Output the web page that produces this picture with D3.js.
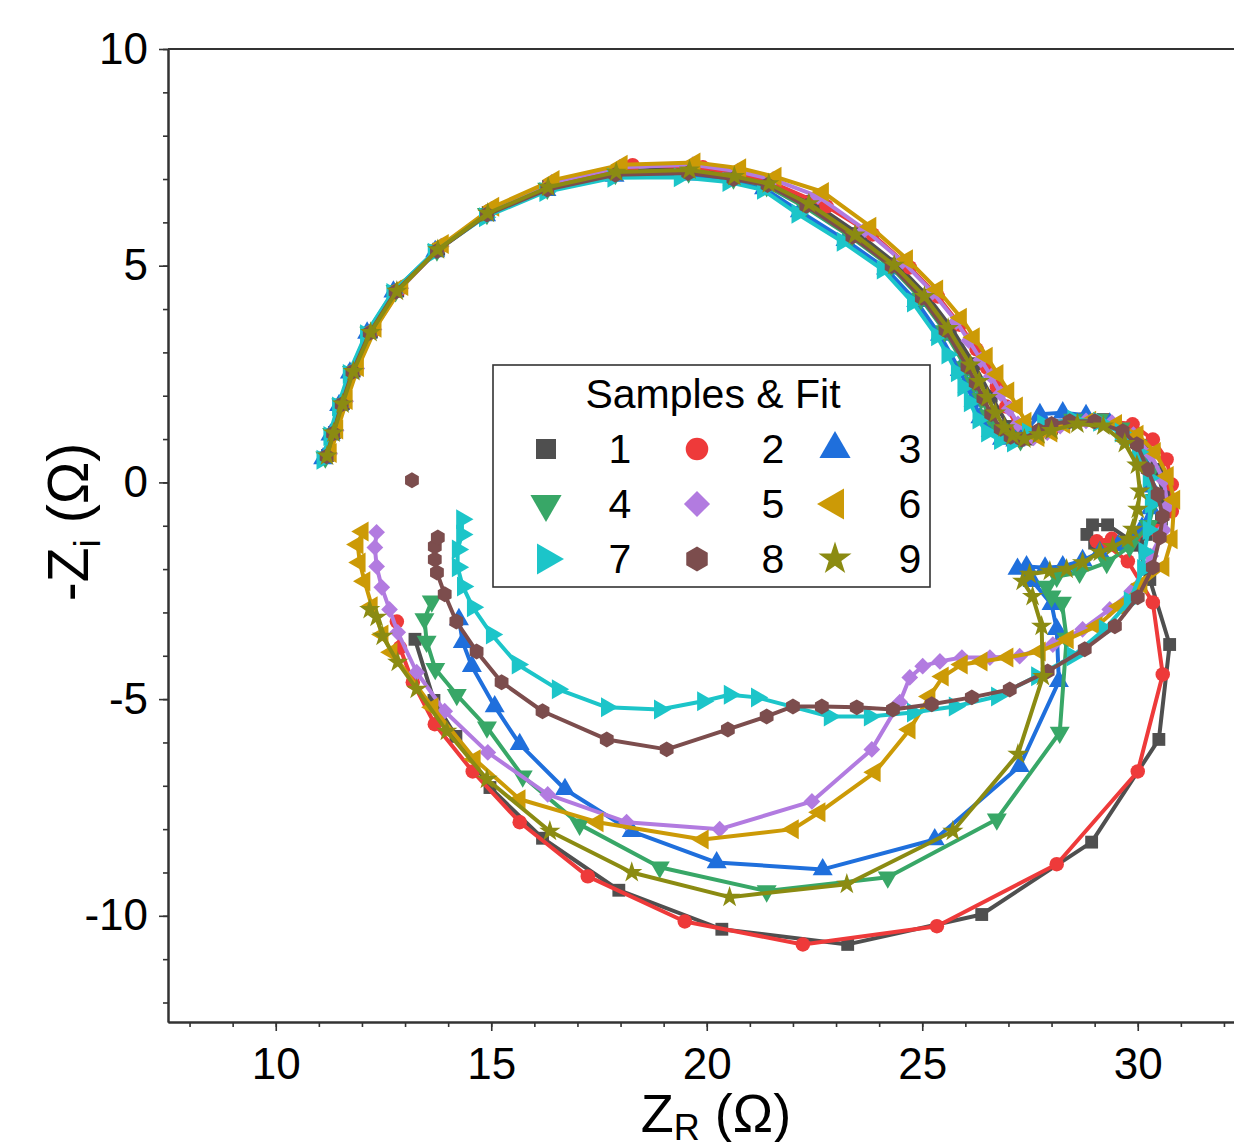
<!DOCTYPE html>
<html lang="en">

<head>
    <meta charset="UTF-8">
    <title>Nyquist samples and fit</title>
    <script src="https://cdn.jsdelivr.net/npm/d3@7"></script>
    <style>
        body { margin: 0; background: #fff; }
        text { font-family: "Liberation Sans", Arial, sans-serif; fill: #000; }
    </style>
</head>

<body>
    <svg></svg>
</body>
<script>
    const sample1 = [[11.2,0.62],[11.36,1.15],[11.57,1.82],[11.82,2.57],[12.22,3.47],[12.83,4.42],[13.78,5.38],[14.93,6.23],[16.33,6.83],[17.92,7.18],[19.62,7.24],[20.65,7.1],
        [21.47,6.92],[22.43,6.48],[23.51,5.74],[24.4,5.04],[25.1,4.32],[25.65,3.6],[26.19,2.74],[26.6,1.99],[27.0,1.29],[27.43,1.0],
        [28.0,1.25],[28.6,1.45],[29.2,1.45],[29.7,1.25],[30.1,0.85],[30.45,0.3],[30.6,-0.3],[30.55,-0.85],[30.2,-1.2],[29.6,-1.38],[29.0,-1.4],[28.82,-1.2],[28.95,-0.98],[29.3,-0.98],[30.0,-1.45],
        [30.28,-2.24],[30.74,-3.74],[30.49,-5.93],[28.93,-8.3],[26.38,-9.97],[23.27,-10.66],[20.35,-10.31],[17.96,-9.41],[16.19,-8.21],[14.97,-7.04],[14.18,-5.86],[13.67,-5.03],[13.23,-3.62]];
    const sample2 = [[11.22,0.64],[11.38,1.17],[11.6,1.85],[11.85,2.6],[12.25,3.5],[12.86,4.45],[13.8,5.42],[14.96,6.27],[16.36,6.88],[18.28,7.32],[19.91,7.27],[21.46,6.94],
        [22.78,6.37],[23.85,5.72],[24.71,4.96],[25.36,4.29],[25.87,3.64],[26.26,3.07],[26.5,2.65],[26.73,2.21],[26.95,1.75],[27.2,1.3],[27.55,1.05],
        [28.1,1.3],[28.7,1.45],[29.3,1.42],[29.88,1.34],[30.35,0.99],[30.67,0.53],[30.79,-0.05],[30.79,-0.67],[30.45,-1.12],[29.9,-1.28],[29.4,-1.3],[29.05,-1.36],[29.28,-1.45],[29.77,-1.82],
        [30.35,-2.77],[30.58,-4.43],[30.0,-6.67],[28.12,-8.81],[25.34,-10.24],[22.23,-10.66],[19.49,-10.13],[17.24,-9.09],[15.66,-7.84],[14.57,-6.67],[13.69,-5.58],[13.18,-4.61],[12.88,-3.81],[12.81,-3.21]];
    const sample3 = [[11.1,0.55],[11.27,1.1],[11.47,1.78],[11.72,2.53],[12.12,3.45],[12.73,4.4],[13.7,5.33],[14.88,6.16],[16.28,6.74],[17.86,7.07],[19.55,7.1],[20.6,6.98],
        [21.33,6.78],[22.16,6.25],[23.22,5.59],[24.16,4.93],[24.86,4.18],[25.41,3.4],[25.87,2.59],[26.05,2.2],[26.19,1.88],[26.35,1.5],[26.59,1.18],[26.85,1.0],[27.16,0.96],
        [27.45,1.25],[27.73,1.57],[28.26,1.61],[28.8,1.55],[29.35,1.35],[29.8,1.0],[30.1,0.5],[30.3,-0.1],[30.3,-0.6],[30.1,-1.05],[29.55,-1.45],[29.12,-1.61],[28.72,-1.8],[28.26,-1.94],[27.85,-1.97],[27.42,-1.94],[27.21,-2.0],
        [27.56,-2.28],[28.0,-2.81],[28.12,-3.39],[28.17,-4.59],[27.26,-6.55],[25.29,-8.24],[22.69,-8.93],[20.23,-8.77],[18.26,-8.05],[16.71,-7.08],[15.66,-6.04],[15.08,-5.17],[14.55,-4.24],[14.34,-3.69],[14.25,-3.16]];
    const sample4 = [[11.15,0.58],[11.31,1.12],[11.52,1.8],[11.77,2.55],[12.17,3.46],[12.78,4.42],[13.74,5.36],[14.9,6.2],[16.3,6.78],[17.88,7.12],[19.58,7.16],[20.62,7.02],
        [21.39,6.84],[22.28,6.35],[23.35,5.66],[24.27,4.98],[24.97,4.24],[25.52,3.49],[26.01,2.66],[26.2,2.3],[26.37,1.93],[26.55,1.55],[26.77,1.23],[27.0,1.05],[27.28,0.98],
        [27.6,1.15],[27.95,1.32],[28.5,1.45],[29.1,1.45],[29.6,1.25],[30.0,0.85],[30.3,0.25],[30.4,-0.4],[30.25,-1.0],[29.81,-1.48],[29.28,-1.85],[28.65,-2.08],[28.12,-2.17],[27.89,-2.4],[28.0,-2.63],
        [28.24,-2.77],[28.35,-3.6],[28.19,-5.77],[26.73,-7.77],[24.2,-9.11],[21.39,-9.43],[18.91,-8.88],[17.05,-7.89],[15.73,-6.78],[14.9,-5.65],[14.2,-4.9],[13.7,-4.3],[13.5,-3.67],[13.45,-3.15],[13.62,-2.74]];
    const sample5 = [[11.25,0.66],[11.4,1.2],[11.62,1.87],[11.88,2.63],[12.28,3.53],[12.9,4.48],[13.84,5.45],[15.0,6.3],[16.4,6.92],[17.98,7.27],[19.68,7.33],[20.72,7.18],
        [21.54,6.99],[22.58,6.6],[23.67,5.83],[24.54,5.1],[25.24,4.39],[25.79,3.71],[26.08,3.27],[26.36,2.83],[26.6,2.45],[26.82,2.05],[27.02,1.7],[27.22,1.35],[27.58,1.03],
        [27.9,1.15],[28.2,1.3],[28.8,1.42],[29.4,1.38],[29.9,1.1],[30.3,0.65],[30.6,0.05],[30.7,-0.55],[30.6,-1.1],[30.3,-1.7],[29.86,-2.51],[29.35,-2.93],[28.72,-3.39],[28.03,-3.74],[27.26,-4.01],
        [26.57,-4.04],[25.92,-4.04],[25.41,-4.13],[25.01,-4.24],[24.71,-4.5],[24.48,-5.07],[23.83,-6.16],[22.44,-7.36],[20.3,-8.0],[18.14,-7.84],[16.31,-7.2],[14.92,-6.23],[13.92,-5.28],[13.27,-4.38],
        [12.83,-3.46],[12.64,-2.93],[12.46,-2.42],[12.34,-1.94],[12.3,-1.5],[12.34,-1.15]];
    const sample6 = [[11.28,0.68],[11.43,1.22],[11.65,1.9],[11.91,2.66],[12.32,3.57],[12.94,4.53],[13.88,5.5],[15.05,6.36],[16.45,6.98],[18.03,7.33],[19.72,7.38],[20.78,7.25],
        [21.6,7.05],[22.7,6.7],[23.8,5.9],[24.65,5.15],[25.35,4.45],[25.9,3.8],[26.2,3.35],[26.5,2.9],[26.75,2.5],[27.0,2.1],[27.2,1.75],[27.4,1.4],[27.7,1.05],
        [28.0,1.15],[28.3,1.35],[28.9,1.42],[29.5,1.35],[30.0,1.1],[30.4,0.7],[30.7,0.15],[30.85,-0.4],[30.79,-1.31],[30.6,-1.95],[30.09,-2.35],[29.58,-2.86],[29.05,-3.32],[28.38,-3.62],[27.73,-3.9],
        [26.98,-4.04],[26.38,-4.13],[25.92,-4.2],[25.48,-4.48],[25.17,-4.94],[24.71,-5.7],[23.9,-6.69],[22.62,-7.61],[22.0,-8.0],[19.91,-8.24],[17.47,-7.84],[15.66,-7.31],[14.62,-6.39],[13.64,-5.19],
        [12.69,-3.92],[12.48,-3.51],[12.23,-2.86],[12.06,-2.28],[11.95,-1.85],[11.9,-1.43],[12.02,-1.13]];
    const sample7 = [[11.08,0.52],[11.24,1.07],[11.44,1.75],[11.69,2.5],[12.09,3.42],[12.7,4.37],[13.66,5.3],[14.85,6.12],[16.25,6.7],[17.83,7.03],[19.37,7.04],[20.5,6.93],
        [21.3,6.75],[22.1,6.2],[23.15,5.55],[24.08,4.91],[24.78,4.15],[25.34,3.37],[25.58,2.95],[25.8,2.54],[25.95,2.2],[26.1,1.85],[26.3,1.45],[26.5,1.15],[26.8,0.98],[27.1,0.92],
        [27.45,1.15],[27.8,1.35],[28.5,1.45],[29.1,1.4],[29.6,1.15],[30.0,0.7],[30.25,0.1],[30.3,-0.5],[30.25,-1.1],[30.15,-1.6],[30.12,-2.0],[29.81,-2.74],[29.23,-3.39],[28.49,-4.01],[27.66,-4.47],
        [26.73,-4.94],[25.75,-5.17],[24.78,-5.31],[23.78,-5.4],[22.85,-5.4],[21.16,-4.96],[20.53,-4.9],[19.91,-5.05],[18.91,-5.24],[17.68,-5.19],[16.54,-4.77],[15.61,-4.2],[15.01,-3.51],
        [14.57,-2.88],[14.34,-2.4],[14.22,-1.96],[14.22,-1.55],[14.32,-1.2],[14.32,-0.85]];
    const sample8 = [[11.18,0.6],[11.33,1.13],[11.53,1.8],[11.78,2.55],[12.18,3.45],[12.78,4.4],[13.74,5.34],[14.9,6.18],[16.3,6.76],[17.88,7.1],[19.57,7.14],[20.62,7.0],
        [21.41,6.86],[22.31,6.38],[23.38,5.67],[24.29,4.99],[24.99,4.26],[25.54,3.51],[26.05,2.67],[26.24,2.3],[26.42,1.94],[26.6,1.58],[26.82,1.24],[27.05,1.05],[27.31,0.99],
        [27.7,1.2],[28.0,1.35],[28.42,1.41],[29.0,1.41],[29.65,1.18],[29.98,0.88],[30.23,0.3],[30.46,-0.28],[30.58,-0.78],[30.51,-1.27],[30.35,-1.96],[30.0,-2.65],[29.47,-3.32],[28.77,-3.85],
        [27.91,-4.36],[27.03,-4.78],[26.15,-4.96],[25.22,-5.12],[24.32,-5.24],[23.48,-5.19],[22.67,-5.17],[22.0,-5.17],[21.39,-5.4],[20.49,-5.7],[19.07,-6.16],[17.68,-5.93],[16.19,-5.28],
        [15.24,-4.61],[14.66,-3.9],[14.19,-3.21],[13.92,-2.58],[13.74,-2.08],[13.69,-1.78],[13.69,-1.48],[13.76,-1.27]];
    const sample8Outlier = [[13.16,0.05]]; // lone point, not on the fit
    const sample9 = [[11.19,0.61],[11.34,1.14],[11.55,1.81],[11.8,2.56],[12.2,3.46],[12.81,4.41],[13.76,5.37],[14.92,6.21],[16.32,6.81],[17.9,7.16],[19.6,7.21],[20.64,7.06],
        [21.44,6.89],[22.37,6.43],[23.44,5.71],[24.35,5.01],[25.05,4.29],[25.6,3.55],[26.12,2.71],[26.32,2.33],[26.51,1.96],[26.7,1.6],[26.91,1.26],[27.1,1.08],[27.37,1.0],
        [27.7,1.1],[28.0,1.2],[28.6,1.35],[29.2,1.3],[29.7,0.9],[29.98,0.4],[30.05,-0.2],[30.0,-0.62],[29.88,-1.08],[29.77,-1.31],[29.42,-1.48],[29.12,-1.61],[28.72,-1.85],[28.35,-2.0],[27.96,-2.05],
        [27.49,-2.12],[27.33,-2.28],[27.56,-2.63],[27.77,-3.32],[27.8,-4.48],[27.22,-6.27],[25.71,-8.05],[23.25,-9.27],[20.53,-9.57],[18.26,-9.0],[16.36,-8.05],[14.9,-6.85],[13.97,-5.74],
        [13.27,-4.77],[12.83,-4.15],[12.48,-3.55],[12.34,-3.11],[12.18,-2.93]];

    const sampleNames = ['1', '2', '3', '4', '5', '6', '7', '8', '9'];
    const xTickLabels = [10, 15, 20, 25, 30];
    const yTickLabels = [-10, -5, 0, 5, 10];

    const colors = ['#4f4f4f', '#ee3a3a', '#1f6fdc', '#38a767', '#b27be0', '#cc9a06', '#1cc5c9', '#7c4d4d', '#8b8b12'];
    const shapes = ['square', 'circle', 'up', 'down', 'diamond', 'left', 'right', 'hexagon', 'star'];

    const series = [sample1, sample2, sample3, sample4, sample5, sample6, sample7, sample8, sample9].map((pts, i) => ({
        name: sampleNames[i],
        pts: pts,
        extra: i === 7 ? sample8Outlier : [],
        color: colors[i],
        shape: shapes[i]
    }));

    const width = 1234, height = 1142;
    const svg = d3.select('svg').attr('width', width).attr('height', height);

    const x = d3.scaleLinear().domain([7.5, 32.5]).range([168, 1245.5]);
    const y = d3.scaleLinear().domain([-12.45, 10]).range([1022, 49]);

    // hexagon is not in d3, so a small custom symbol type
    const symbolHexagon = {
        draw(ctx, size) {
            const r = Math.sqrt(size / (1.5 * Math.sqrt(3)));
            for (let k = 0; k < 6; k++) {
                const a = Math.PI / 3 * k - Math.PI / 2;
                if (k === 0) ctx.moveTo(r * Math.cos(a), r * Math.sin(a));
                else ctx.lineTo(r * Math.cos(a), r * Math.sin(a));
            }
            ctx.closePath();
        }
    };

    const symbolInfo = {
        square: { type: d3.symbolSquare, rot: 0, k: 1 },
        circle: { type: d3.symbolCircle, rot: 0, k: 1 },
        up: { type: d3.symbolTriangle, rot: 0, k: 1.05 },
        down: { type: d3.symbolTriangle, rot: 180, k: 1.05 },
        diamond: { type: d3.symbolSquare, rot: 45, k: 0.85 },
        left: { type: d3.symbolTriangle, rot: -90, k: 1.05 },
        right: { type: d3.symbolTriangle, rot: 90, k: 1.05 },
        hexagon: { type: symbolHexagon, rot: 0, k: 1 },
        star: { type: d3.symbolStar, rot: 0, k: 0.85 }
    };

    const markerPath = (shape, size) => d3.symbol().type(symbolInfo[shape].type).size(size * symbolInfo[shape].k)();

    // axes: minor ticks every 1, labelled ticks every 5
    const axisColor = '#333';
    const gx = svg.append('g').attr('transform', `translate(0,${y.range()[0]})`);
    gx.call(d3.axisBottom(x).tickValues(d3.range(8, 33)).tickSize(5).tickSizeOuter(0).tickFormat(''));
    gx.call(g => g.append('g').call(d3.axisBottom(x).tickValues(xTickLabels).tickSize(9).tickSizeOuter(0).tickFormat(d => String(d))));
    const gy = svg.append('g').attr('transform', `translate(${x.range()[0]},0)`);
    gy.call(d3.axisLeft(y).tickValues(d3.range(-12, 11)).tickSize(5).tickSizeOuter(0).tickFormat(''));
    gy.call(g => g.append('g').call(d3.axisLeft(y).tickValues(yTickLabels).tickSize(9).tickSizeOuter(0).tickFormat(d => String(d))));

    svg.selectAll('.domain').attr('stroke', axisColor).attr('stroke-width', 2);
    svg.selectAll('.tick line').attr('stroke', axisColor).attr('stroke-width', 1.6);
    gx.selectAll('text').attr('y', 26).attr('font-size', 44).attr('fill', '#000')
        .attr('font-family', '"Liberation Sans", Arial, sans-serif');
    gy.selectAll('text').attr('x', -20).attr('font-size', 44).attr('fill', '#000')
        .attr('font-family', '"Liberation Sans", Arial, sans-serif');

    // top frame line
    svg.append('line')
        .attr('x1', x.range()[0]).attr('x2', width)
        .attr('y1', y.range()[1]).attr('y2', y.range()[1])
        .attr('stroke', axisColor).attr('stroke-width', 2);

    // axis titles
    const xt = svg.append('text').attr('x', 716).attr('y', 1132).attr('text-anchor', 'middle').attr('font-size', 54);
    xt.append('tspan').text('Z');
    xt.append('tspan').attr('font-size', 36).attr('dy', 8).text('R');
    xt.append('tspan').attr('dy', -8).text(' (Ω)');

    const yt = svg.append('text').attr('transform', 'translate(88,522) rotate(-90)').attr('text-anchor', 'middle').attr('font-size', 57);
    yt.append('tspan').text('-Z');
    yt.append('tspan').attr('font-size', 37).attr('dy', 12).text('i');
    yt.append('tspan').attr('dy', -12).text(' (Ω)');

    // data: fit line and sample markers for each series
    const line = d3.line().x(d => x(d[0])).y(d => y(d[1]));
    const plot = svg.append('g');

    series.forEach(s => {
        const g = plot.append('g');
        g.append('path')
            .attr('d', line(s.pts))
            .attr('fill', 'none')
            .attr('stroke', s.color)
            .attr('stroke-width', 4)
            .attr('stroke-linejoin', 'round');
        g.selectAll('path.mk')
            .data(s.pts.concat(s.extra))
            .join('path')
            .attr('class', 'mk')
            .attr('d', markerPath(s.shape, 165))
            .attr('transform', d => `translate(${x(d[0])},${y(d[1])}) rotate(${symbolInfo[s.shape].rot})`)
            .attr('fill', s.color);
    });

    // legend
    const legend = svg.append('g');
    legend.append('rect')
        .attr('x', 493).attr('y', 365).attr('width', 437).attr('height', 222)
        .attr('fill', '#fff').attr('stroke', '#333').attr('stroke-width', 1.6);
    legend.append('text')
        .attr('x', 713).attr('y', 408).attr('text-anchor', 'middle').attr('font-size', 41)
        .text('Samples & Fit');

    const colSym = [546, 697, 835];
    const colNum = [620, 773, 910];
    const rowY = [449, 504, 559];

    series.forEach((s, i) => {
        const c = i % 3, r = Math.floor(i / 3);
        legend.append('path')
            .attr('d', markerPath(s.shape, 400))
            .attr('transform', `translate(${colSym[c]},${rowY[r]}) rotate(${symbolInfo[s.shape].rot})`)
            .attr('fill', s.color);
        legend.append('text')
            .attr('x', colNum[c]).attr('y', rowY[r] + 14)
            .attr('text-anchor', 'middle').attr('font-size', 41)
            .text(s.name);
    });
</script>

</html>
